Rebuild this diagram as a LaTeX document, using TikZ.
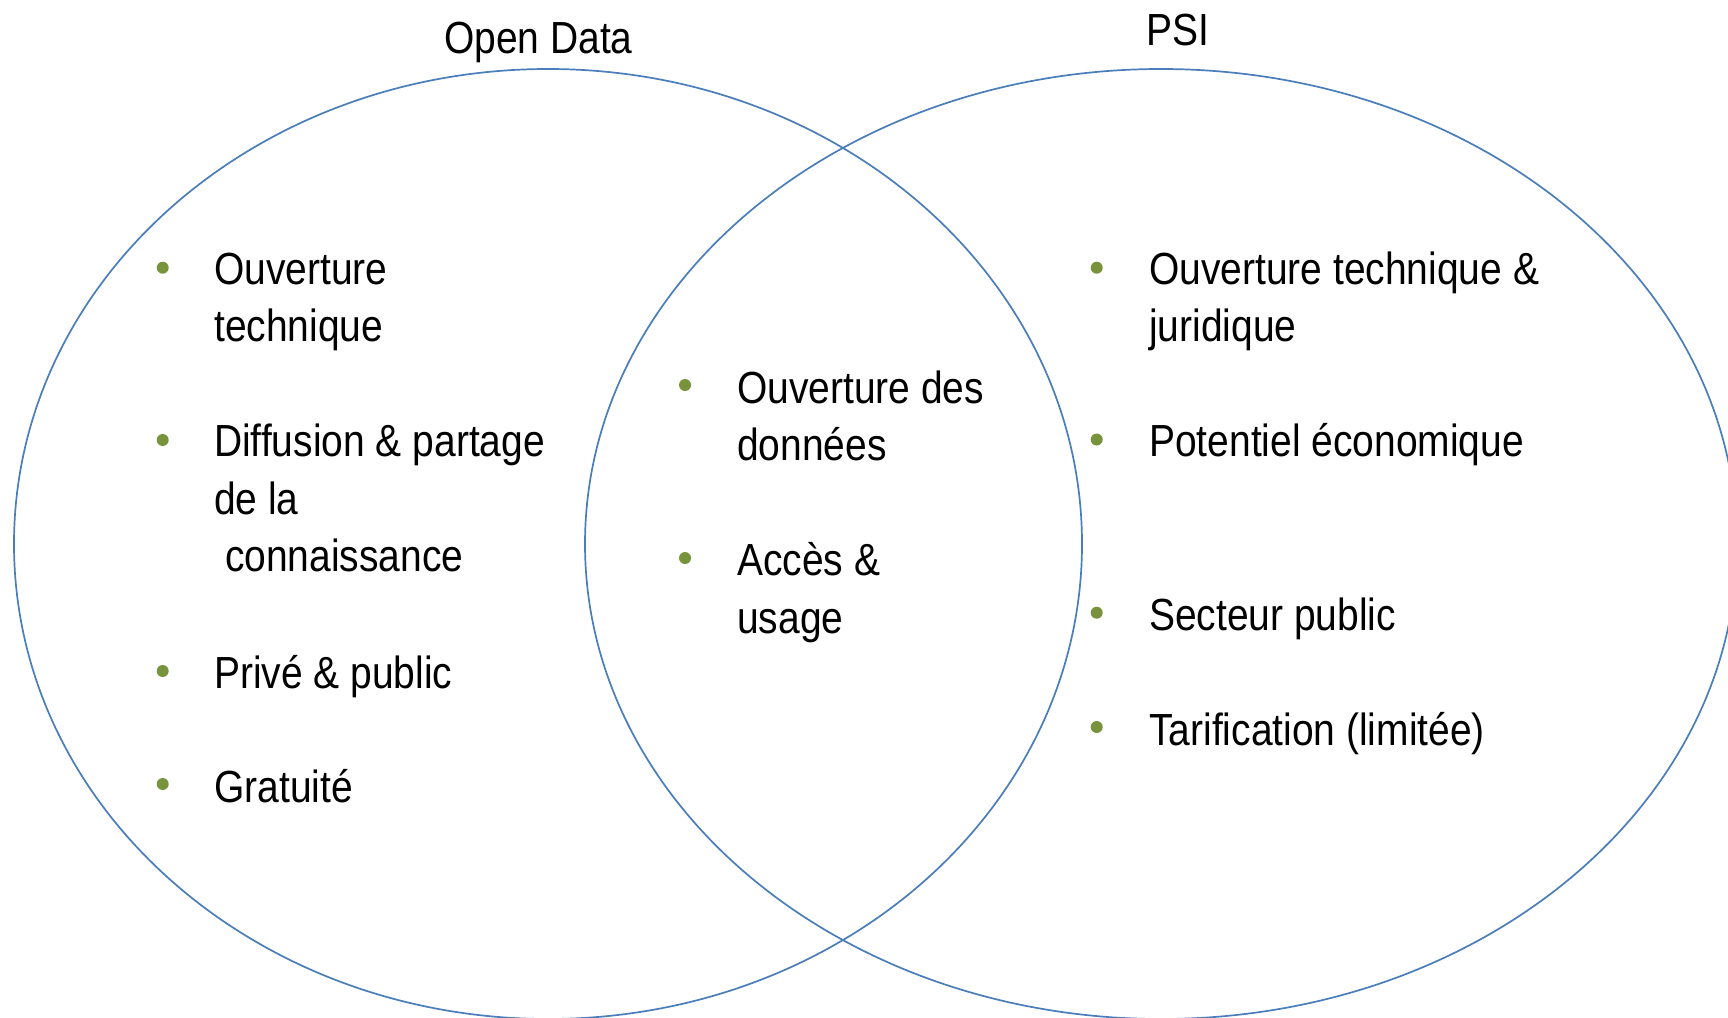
\documentclass[tikz,border=0pt]{standalone}
\usepackage{fontspec}
\setmainfont{Liberation Sans}[FakeStretch=0.866]
\usetikzlibrary{shapes.geometric}
\definecolor{vennblue}{HTML}{4A7EBB}
\definecolor{bulletgreen}{HTML}{77933C}
\tikzset{
  venn/.style={draw=vennblue, line width=1.7pt, ellipse, inner sep=0pt},
  dot/.style={circle, fill=bulletgreen, minimum size=12pt, inner sep=0pt},
  item/.style={anchor=base west, inner sep=0pt, align=left, font=\fontsize{45}{57.5}\selectfont},
  ttl/.style={anchor=base west, inner sep=0pt, font=\fontsize{45}{57.5}\selectfont}
}
\begin{document}
\begin{tikzpicture}[x=1pt, y=-1pt]
\useasboundingbox (0,0) rectangle (1728,1017);
\clip (0,0) rectangle (1728,1017);
% circles
\node[venn, minimum width=1068pt, minimum height=950pt] (od) at (548,544) {};
\node[venn, minimum width=1152pt, minimum height=950pt] (psi) at (1161,544) {};
% titles
\node[ttl] (tod) at (444,53) {Open Data};
\node[ttl] (tpsi) at (1146,45) {PSI};
% left column (anchor = baseline of the last line)
\node[dot] (l1) at (162.7,267.7) {};
\node[item] (tl1) at (214,341.5) {Ouverture\\technique};
\node[dot] (l2) at (162.7,440) {};
\node[item] (tl2) at (214,571.7) {Diffusion \& partage\\de la\\ \ connaissance};
\node[dot] (l3) at (162.7,671) {};
\node[item] (tl3) at (214,688.3) {Privé \& public};
\node[dot] (l4) at (162.7,784) {};
\node[item] (tl4) at (214,802.7) {Gratuité};
% middle column
\node[dot] (m1) at (685,385) {};
\node[item] (tm1) at (737,460.5) {Ouverture des\\données};
\node[dot] (m2) at (685,558) {};
\node[item] (tm2) at (737,633) {Accès \&\\usage};
% right column
\node[dot] (r1) at (1096.7,267.7) {};
\node[item] (tr1) at (1149,341.5) {Ouverture technique \&\\juridique};
\node[dot] (r2) at (1096.7,439.5) {};
\node[item] (tr2) at (1149,456.7) {Potentiel économique};
\node[dot] (r3) at (1096.7,612.7) {};
\node[item] (tr3) at (1149,630) {Secteur public};
\node[dot] (r4) at (1096.7,727) {};
\node[item] (tr4) at (1149,745) {Tarification (limitée)};
\end{tikzpicture}
\end{document}
